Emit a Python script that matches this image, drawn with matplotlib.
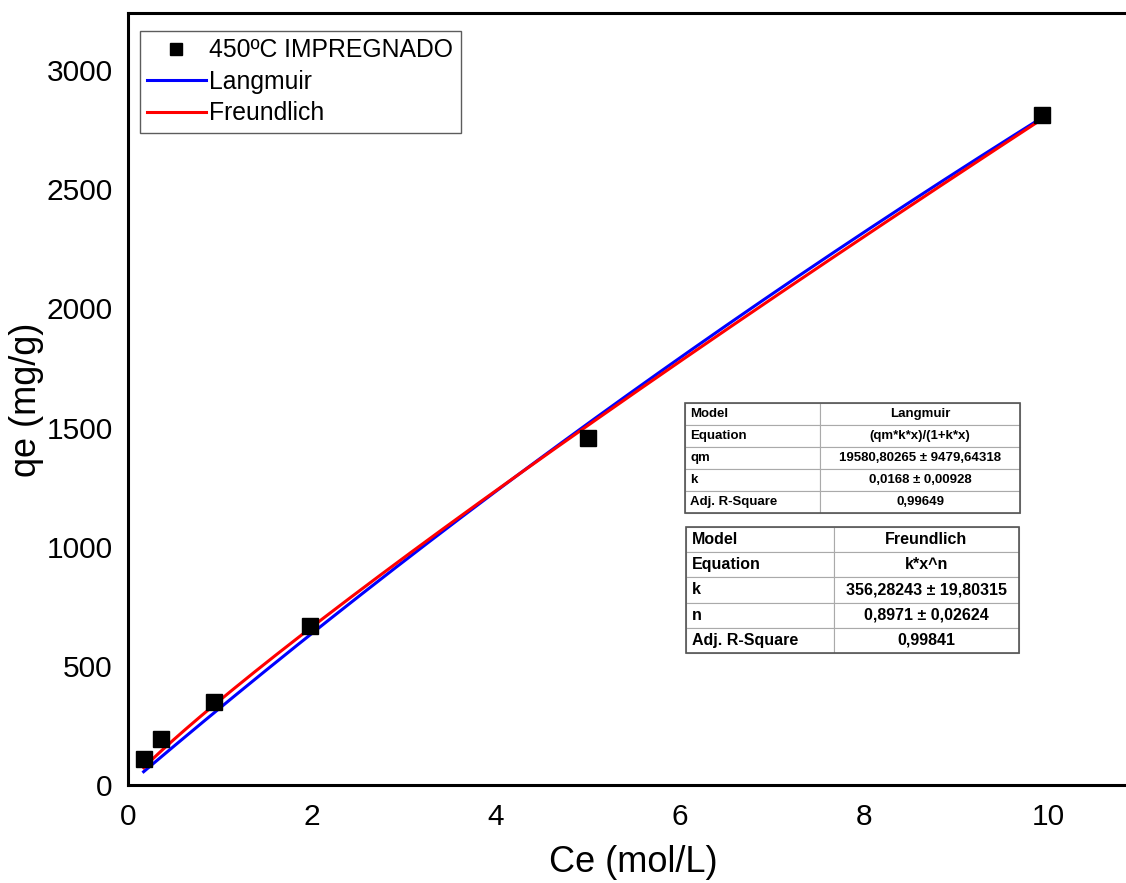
import numpy as np
import matplotlib
matplotlib.use("Agg")
import matplotlib.pyplot as plt

plt.rcParams['font.family'] = ['Liberation Sans', 'DejaVu Sans']

ce = [0.17, 0.36, 0.93, 1.98, 5.0, 9.93]
qe = [108, 195, 350, 668, 1458, 2810]

# Fit parameters (from the inset tables)
lang_qm = 19580.80265
lang_k = 0.0168
freu_k = 356.28243
freu_n = 0.8971

lang_rows = [["Model", "Langmuir"],
             ["Equation", "(qm*k*x)/(1+k*x)"],
             ["qm", "19580,80265 ± 9479,64318"],
             ["k", "0,0168 ± 0,00928"],
             ["Adj. R-Square", "0,99649"]]
freu_rows = [["Model", "Freundlich"],
             ["Equation", "k*x^n"],
             ["k", "356,28243 ± 19,80315"],
             ["n", "0,8971 ± 0,02624"],
             ["Adj. R-Square", "0,99841"]]

W, H = 1126, 883
fig = plt.figure(figsize=(W / 100, H / 100), dpi=100)
ax = fig.add_axes([128 / W, (H - 785) / H, 1012 / W, 772 / H])

xfit = np.linspace(min(ce), max(ce), 300)
y_lang = lang_qm * lang_k * xfit / (1 + lang_k * xfit)
y_freu = freu_k * xfit ** freu_n

ax.plot(xfit, y_lang, color='#0000ff', lw=2.2, label='Langmuir', zorder=3)
ax.plot(xfit, y_freu, color='#ff0000', lw=2.2, label='Freundlich', zorder=4)
ax.plot(ce, qe, 's', color='black', ms=11, label='450ºC IMPREGNADO', zorder=5)

ax.set_xlim(0, 11)
ax.set_ylim(0, 3240)
ax.set_xticks([0, 2, 4, 6, 8, 10])
ax.set_yticks([0, 500, 1000, 1500, 2000, 2500, 3000])
ax.tick_params(length=0, labelsize=21.5, pad=11)
ax.tick_params(axis='x', pad=13)
for s in ['left', 'bottom', 'top']:
    ax.spines[s].set_linewidth(2.2)
ax.spines['right'].set_visible(False)
ax.set_xlabel('Ce (mol/L)', fontsize=26, va='center')
ax.set_ylabel('qe (mg/g)', fontsize=26, va='center')
ax.xaxis.set_label_coords((633 - 128) / 1012, (785 - 863) / 772)
ax.yaxis.set_label_coords((27 - 128) / 1012, (785 - 400) / 772)

h, l = ax.get_legend_handles_labels()
order = [2, 0, 1]
leg = ax.legend([h[i] for i in order], [l[i] for i in order],
                loc='upper left', bbox_to_anchor=((140 - 128) / 1012, (785 - 31) / 772),
                borderaxespad=0, fontsize=17.8, frameon=True, fancybox=False,
                edgecolor='#333333', handlelength=2.35, handletextpad=0.15,
                labelspacing=0.3, borderpad=0.3, markerscale=0.85)
leg.get_frame().set_linewidth(1.0)


def draw_table(rows, x0, y0, x1, y1, col1frac, fs):
    tax = fig.add_axes([x0 / W, (H - y1) / H, (x1 - x0) / W, (y1 - y0) / H])
    tax.axis('off')
    tb = tax.table(cellText=rows, bbox=[0, 0, 1, 1],
                   colWidths=[col1frac, 1 - col1frac], cellLoc='center')
    tb.auto_set_font_size(False)
    for (r, c), cell in tb.get_celld().items():
        cell.set_edgecolor('#aaaaaa')
        cell.set_linewidth(0.8)
        cell.get_text().set_fontsize(fs)
        cell.get_text().set_fontweight('bold')
        if c == 0:
            cell.get_text().set_ha('left')
            cell._loc = 'left'
            cell.PAD = 0.04
    tax.add_patch(plt.Rectangle((0, 0), 1, 1, transform=tax.transAxes, fill=False,
                                edgecolor='#555555', lw=1.2, clip_on=False))


draw_table(lang_rows, 685, 403, 1020, 513, 0.403, 9.5)
draw_table(freu_rows, 686, 527, 1019, 653, 0.444, 11.5)

fig.savefig('out.png', dpi=100)
